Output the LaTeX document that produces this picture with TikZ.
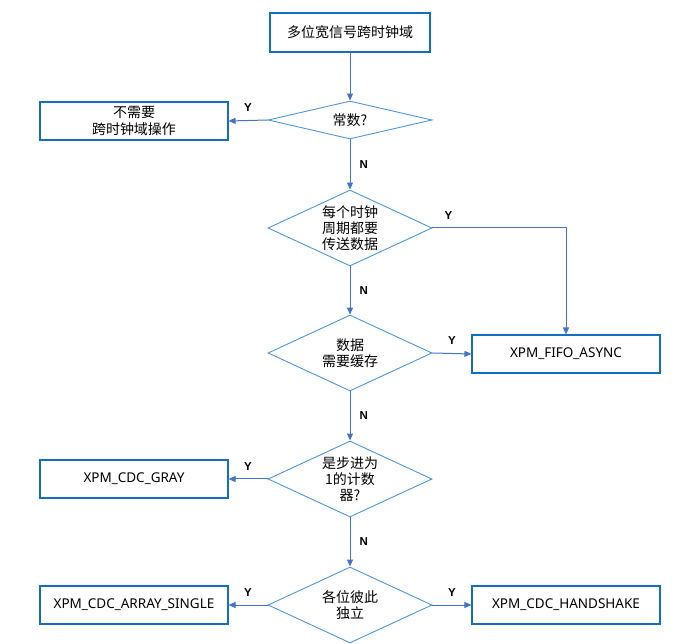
\documentclass[tikz,border=0pt]{standalone}
\usepackage{fontspec}
\setmainfont{Noto Sans}
\newfontfamily\cjk{Noto Sans CJK SC}
\newfontfamily\labfont{Liberation Sans}
\usetikzlibrary{shapes.geometric,arrows.meta}
\definecolor{boxblue}{RGB}{20,110,190}
\definecolor{diablue}{RGB}{80,150,215}
\definecolor{arrblue}{RGB}{68,114,196}
\begin{document}
\begin{tikzpicture}[x=1pt,y=-1pt,
 box/.style={draw=boxblue, line width=1.1pt, minimum width=188pt, minimum height=38pt, inner sep=0pt, font=\fontsize{13.5}{17}\selectfont, align=center},
 cjkbox/.style={box, font=\cjk\fontsize{14}{17}\selectfont},
 dia/.style={diamond, draw=diablue, line width=0.9pt, aspect=2.16, minimum width=164pt, minimum height=76pt, inner sep=0pt, font=\cjk\fontsize{14}{16}\selectfont, align=center},
 arr/.style={draw=arrblue, line width=1pt, -{Triangle[length=7pt,width=6pt]}},
 lab/.style={font=\labfont\bfseries\fontsize{11.5}{12}\selectfont, inner sep=1pt}
]
\fill[white] (0,0) rectangle (697,644);
\useasboundingbox (0,0) rectangle (697,644);
\clip (0,0) rectangle (697,644);

\node[cjkbox, minimum width=160pt, minimum height=39pt] (top) at (350,32.5) {多位宽信号跨时钟域};
\node[dia, minimum height=38pt] (d1) at (350,120) {常数?};
\node[cjkbox] (b1) at (134,121) {不需要\\跨时钟域操作};
\node[dia] (d2) at (350,228) {每个时钟\\周期都要\\传送数据};
\node[dia] (d3) at (350,353) {数据\\需要缓存};
\node[box] (fifo) at (566,354) {XPM\_FIFO\_ASYNC};
\node[dia] (d4) at (350,479) {是步进为\\1的计数\\器?};
\node[box] (gray) at (134,479) {XPM\_CDC\_GRAY};
\node[dia] (d5) at (350,605) {各位彼此\\独立};
\node[box] (single) at (134,605) {XPM\_CDC\_ARRAY\_SINGLE};
\node[box] (hs) at (566,605) {XPM\_CDC\_HANDSHAKE};

\draw[arr] (top.south) -- (d1.north);
\draw[arr] (d1.west) -- node[lab,above=7pt]{Y} (b1.east);
\draw[arr] (d1.south) -- node[lab,right=8pt]{N} (d2.north);
\draw[arr] (d2.east) -| node[lab,pos=0.06,above=7pt]{Y} (fifo.north);
\draw[arr] (d2.south) -- node[lab,right=8pt]{N} (d3.north);
\draw[arr] (d3.east) -- node[lab,above=7pt]{Y} (fifo.west);
\draw[arr] (d3.south) -- node[lab,right=8pt]{N} (d4.north);
\draw[arr] (d4.west) -- node[lab,above=7pt]{Y} (gray.east);
\draw[arr] (d4.south) -- node[lab,right=8pt]{N} (d5.north);
\draw[arr] (d5.west) -- node[lab,above=7pt]{Y} (single.east);
\draw[arr] (d5.east) -- node[lab,above=7pt]{Y} (hs.west);
\end{tikzpicture}
\end{document}
